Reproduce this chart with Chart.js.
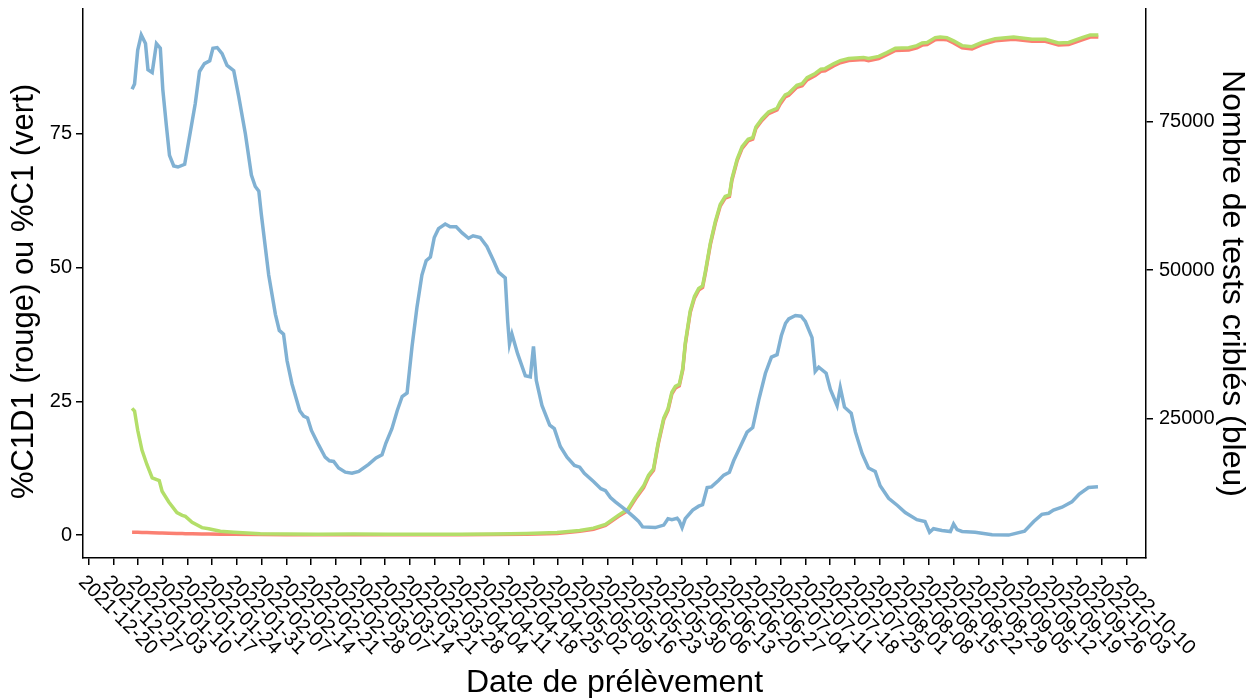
<!DOCTYPE html>
<html>
<head>
<meta charset="utf-8">
<script src="https://cdn.jsdelivr.net/npm/chart.js@4.4.1/dist/chart.umd.min.js"></script>
<style>
  body { margin: 0; background: #fff; }
  #wrap { width: 1258px; height: 698px; }
</style>
</head>
<body>
<div id="wrap"><canvas id="chart"></canvas></div>
<script>
// weekly x tick labels
const tickLabels = [
  "2021-12-20", "2021-12-27", "2022-01-03", "2022-01-10", "2022-01-17", "2022-01-24", "2022-01-31",
  "2022-02-07", "2022-02-14", "2022-02-21", "2022-02-28", "2022-03-07", "2022-03-14", "2022-03-21",
  "2022-03-28", "2022-04-04", "2022-04-11", "2022-04-18", "2022-04-25", "2022-05-02", "2022-05-09",
  "2022-05-16", "2022-05-23", "2022-05-30", "2022-06-06", "2022-06-13", "2022-06-20", "2022-06-27",
  "2022-07-04", "2022-07-11", "2022-07-18", "2022-07-25", "2022-08-01", "2022-08-08", "2022-08-15",
  "2022-08-22", "2022-08-29", "2022-09-05", "2022-09-12", "2022-09-19", "2022-09-26", "2022-10-03",
  "2022-10-10"
];
const leftTicks = [0, 25, 50, 75];
const rightTicks = [25000, 50000, 75000];
const leftTitle = "%C1D1 (rouge) ou %C1 (vert)";

// days counted from 2021-12-20
const pctDays = [
  12.3, 13, 13.9, 15.1, 16.5, 18, 20, 20.8, 22.7, 25, 26.5, 27.4, 29.3, 32.1, 34, 37.3, 41.1, 48.6,
  56, 65, 75, 85, 95, 105, 115, 124, 132.7, 139.1, 143, 146.4, 150.1, 152.8, 154.9, 157.2, 158.6,
  160, 161.3, 162.9, 164.1, 165.2, 166.2, 167.3, 168.3, 169, 170.4, 171.6, 172.8, 173.9, 174.7,
  176.1, 177.5, 178.9, 180.3, 181.5, 182.2, 183.7, 185.1, 186.8, 188.1, 189, 190.7, 192.6, 195,
  195.9, 197.3, 198.3, 200.6, 202.1, 203.5, 205.8, 207.4, 208.6, 211, 212.9, 215.3, 219.5, 220.9,
  223.8, 226.1, 228.5, 232.3, 234.6, 236.1, 237.5, 239.8, 241.2, 243.1, 245, 247.4, 250.2, 253,
  256.8, 262, 267.2, 271, 274.7, 277.6, 281.4, 283.7, 286
];
const pctC1 = [
  23.7, 23.2, 19.6, 15.9, 13.2, 10.7, 10.2, 8.2, 6.2, 4.2, 3.7, 3.5, 2.4, 1.4, 1.2, 0.73, 0.54, 0.26,
  0.2, 0.15, 0.2, 0.15, 0.15, 0.15, 0.2, 0.3, 0.5, 0.86, 1.3, 2.0, 3.74, 4.88, 7.08, 9.2, 11.2,
  12.4, 17.2, 21.9, 23.6, 26.7, 27.8, 28.2, 31.2, 35.9, 41.9, 44.6, 46.1, 46.6, 49.3,
  54.6, 58.6, 61.8, 63.3, 63.6, 66.6, 70.3, 72.6, 74.0, 74.3, 76.3, 77.8, 79.1, 79.8,
  81.0, 82.3, 82.6, 84.1, 84.4, 85.5, 86.3, 87.1, 87.2, 88.1, 88.7, 89.1, 89.3, 89.1,
  89.5, 90.2, 91.0, 91.1, 91.5, 92.0, 92.1, 93.0, 93.1, 93.0, 92.4, 91.5, 91.3, 92.1,
  92.8, 93.1, 92.7, 92.7, 92.0, 92.1, 93.0, 93.5, 93.5
];
const pctC1D1 = [
  0.55, 0.55, 0.53, 0.5, 0.48, 0.45, 0.4, 0.38, 0.35, 0.3, 0.28, 0.27, 0.25, 0.22, 0.2, 0.17, 0.15, 0.1,
  0.08, 0.05, 0.05, 0.05, 0.05, 0.05, 0.1, 0.15, 0.3, 0.7, 1.1, 1.8, 3.5, 4.6, 6.8, 8.9, 10.9,
  12.1, 16.9, 21.6, 23.3, 26.4, 27.5, 27.9, 30.9, 35.6, 41.6, 44.3, 45.8, 46.3, 49.0,
  54.3, 58.3, 61.5, 63.0, 63.3, 66.3, 70.0, 72.3, 73.7, 74.0, 76.0, 77.5, 78.8, 79.5,
  80.6, 81.9, 82.2, 83.7, 84.0, 85.1, 85.9, 86.7, 86.8, 87.7, 88.3, 88.7, 88.9, 88.7,
  89.1, 89.8, 90.6, 90.7, 91.1, 91.6, 91.7, 92.6, 92.7, 92.6, 92.0, 91.1, 90.9, 91.7,
  92.4, 92.7, 92.3, 92.3, 91.6, 91.7, 92.6, 93.1, 93.1
];

const testDays = [
  12.3, 13, 13.9, 14.9, 16.1, 16.8, 18, 19.2, 20.3, 21, 22, 22.9, 24.1, 25.3, 27.2, 28.8, 30.2, 31.4,
  32.8, 34.3, 35.2, 36.4, 37.8, 39.2, 41.1, 42.5, 44.4, 46.1, 47.2, 48.2, 48.9, 51, 52.9, 54, 55.2,
  56.2, 57.6, 59.8, 60.9, 62, 63.1, 65.1, 67, 68.2, 69.4, 70.8, 72.7, 74.6, 76.5, 79.3, 81.4, 83.1,
  84.2, 85.9, 87.4, 88.8, 90.2, 91.6, 93, 94.4, 95.6, 96.8, 97.9, 99.1, 101, 102.4, 104.1, 105.8,
  107.6, 108.9, 110.9, 112.8, 114.7, 116.1, 118, 118.7, 119.2, 119.9, 121.5, 123.7, 125.1, 126,
  126.8, 128.4, 130.6, 131.9, 133.6, 135.5, 137.6, 139.1, 140.4, 143, 145.1, 146.4, 147.8, 149.2,
  152.2, 154.4, 155.8, 156.9, 160.5, 162.9, 164.1, 165.2, 166.7, 167.3, 168.1, 169, 171.1, 172.8,
  173.9, 175.2, 176.4, 178.4, 179.9, 181.5, 182.7, 184.6, 186.5, 188.1, 189.8, 191.7, 193.4, 195,
  196.2, 197.4, 198.3, 200.2, 201.8, 203, 204.9, 205.8, 206.8, 208.9, 210.1, 212, 212.9, 214.1,
  216, 217.2, 219.1, 220.9, 222.8, 224.2, 226.6, 229.1, 231.3, 234.6, 236.9, 238.2, 239.3, 241.7,
  244.1, 245, 246, 247.4, 251.1, 255.9, 260.6, 265.1, 267.7, 270, 271.9, 273.3, 275.7, 278.5,
  280.6, 283.2, 285.9
];
const testCounts = [
  80400, 81300, 87000, 89540, 88090, 83710, 83230, 88090, 87310, 80400, 74390, 69280, 67500, 67330,
  67780, 73210, 78000, 83400, 84720, 85210, 87310, 87430, 86400, 84420, 83530, 79200, 72880, 65980,
  64060, 63280, 59420, 49160, 42550, 39840, 39230, 34740, 30840, 26330, 25440, 25120, 23020, 20630,
  18520, 17920, 17800, 16710, 16000, 15810, 16120, 17310, 18390, 18940, 20910, 23320, 26330, 28730,
  29320, 37150, 43760, 49160, 51560, 52170, 55470, 56960, 57750, 57270, 57270, 56240, 55350, 55770,
  55470, 53970, 51560, 49650, 48670, 41350, 37570, 39250, 35940, 32220, 32030, 37150, 31430, 27220,
  23920, 23320, 20320, 18520, 17130, 16840, 15810, 14430, 13220, 12900, 11730, 11000, 9620, 8480,
  7700, 6800, 6680, 7100, 8180, 8010, 8240, 7820, 6680, 8180, 9620, 10280, 10530, 13410, 13530,
  14600, 15510, 16000, 17920, 20320, 22730, 23500, 28130, 32640, 35350, 35770, 38950, 41050, 41770,
  42360, 42240, 41350, 38640, 32940, 33660, 32640, 29930, 27220, 30230, 26930, 25910, 22730, 19110,
  16710, 16120, 13710, 11610, 10400, 9200, 8010, 7700, 5905, 6490, 6190, 6020, 7280, 6330, 6020,
  5910, 5480, 5420, 6070, 7700, 8900, 9080, 9620, 10110, 11000, 12330, 13410, 13530
];

const base = Date.UTC(2021, 11, 20);
function dayOf(s) {
  const p = s.split("-").map(Number);
  return (Date.UTC(p[0], p[1] - 1, p[2]) - base) / 86400000;
}
function pts(xs, ys) {
  return xs.map((x, i) => ({ x: x, y: ys[i] }));
}

const family = '"Liberation Sans", Arial, sans-serif';

// ggplot-like slanted date labels hanging from each tick, plus the left title
const extraText = {
  id: "extraText",
  afterDraw(chart) {
    const sc = chart.scales.x;
    const ctx = chart.ctx;
    ctx.save();
    ctx.font = "20px " + family;
    ctx.fillStyle = "#000";
    ctx.textAlign = "left";
    ctx.textBaseline = "top";
    tickLabels.forEach(lab => {
      const px = sc.getPixelForValue(dayOf(lab));
      ctx.save();
      ctx.translate(px, sc.top + 14);
      ctx.rotate(Math.PI / 4);
      ctx.fillText(lab, 0, 0);
      ctx.restore();
    });

    const ys = chart.scales.y;
    ctx.font = "31px " + family;
    ctx.textAlign = "center";
    ctx.textBaseline = "middle";
    ctx.translate(24, (ys.top + ys.bottom) / 2 + 8);
    ctx.rotate(-Math.PI / 2);
    ctx.fillText(leftTitle, 0, 0);
    ctx.restore();
  }
};

function noPad(s) {
  s.paddingTop = 0;
  s.paddingBottom = 0;
  s.paddingLeft = 0;
  s.paddingRight = 0;
}

new Chart(document.getElementById("chart"), {
  type: "line",
  data: {
    datasets: [
      {
        label: "Nombre de tests criblés",
        data: pts(testDays, testCounts),
        yAxisID: "y1",
        borderColor: "#80b1d3",
        borderWidth: 3.5,
        pointRadius: 0,
        tension: 0
      },
      {
        label: "%C1",
        data: pts(pctDays, pctC1),
        yAxisID: "y",
        borderColor: "#b3de69",
        borderWidth: 3.5,
        pointRadius: 0,
        tension: 0
      },
      {
        label: "%C1D1",
        data: pts(pctDays, pctC1D1),
        yAxisID: "y",
        borderColor: "#fb8072",
        borderWidth: 3.5,
        pointRadius: 0,
        tension: 0
      }
    ]
  },
  options: {
    responsive: true,
    maintainAspectRatio: false,
    animation: false,
    layout: { padding: { top: 9, left: 0, right: 0, bottom: 0 } },
    plugins: { legend: { display: false }, tooltip: { enabled: false } },
    scales: {
      x: {
        type: "linear",
        position: "bottom",
        min: -1.6,
        max: 299.5,
        afterBuildTicks: s => { s.ticks = tickLabels.map(l => ({ value: dayOf(l) })); },
        afterFit: s => { s.height = 140; noPad(s); },
        ticks: { display: false },
        grid: { drawOnChartArea: false, drawTicks: true, tickLength: 7, color: "#000", lineWidth: 1.5 },
        border: { display: true, color: "#000", width: 1.5 },
        title: {
          display: true, text: "Date de prélèvement", color: "#000",
          font: { size: 32, family: family }, padding: { top: 0, bottom: -4 }
        }
      },
      y: {
        type: "linear",
        position: "left",
        min: -4.28,
        max: 98.35,
        afterBuildTicks: s => { s.ticks = leftTicks.map(v => ({ value: v })); },
        afterFit: s => { s.width = 83; noPad(s); },
        ticks: { color: "#000", font: { size: 20, family: family }, padding: 4, callback: v => String(v) },
        grid: { drawOnChartArea: false, tickLength: 7, color: "#000", lineWidth: 1.5 },
        border: { display: true, color: "#000", width: 1.5 },
        title: { display: false }
      },
      y1: {
        type: "linear",
        position: "right",
        min: 1565,
        max: 93910,
        afterBuildTicks: s => { s.ticks = rightTicks.map(v => ({ value: v })); },
        afterFit: s => { s.width = 112; noPad(s); },
        ticks: { color: "#000", font: { size: 20, family: family }, padding: 6, callback: v => String(v) },
        grid: { drawOnChartArea: false, tickLength: 7, color: "#000", lineWidth: 1.5 },
        border: { display: true, color: "#000", width: 1.5 },
        title: {
          display: true, text: "Nombre de tests criblés (bleu)", color: "#000",
          font: { size: 32, family: family }, padding: { top: 7, bottom: 0 }
        }
      }
    }
  },
  plugins: [extraText]
});
</script>
</body>
</html>
